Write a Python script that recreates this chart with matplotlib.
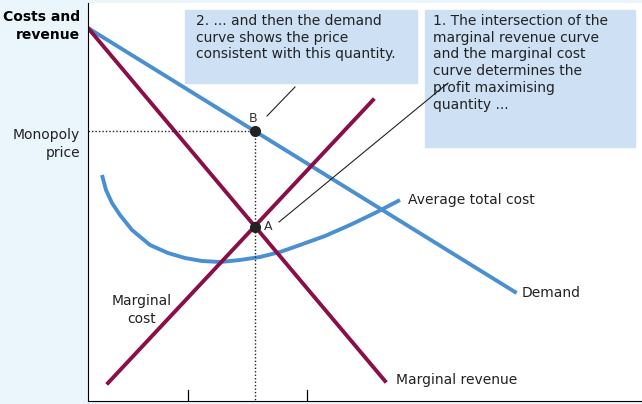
import matplotlib
matplotlib.use("Agg")
import matplotlib.pyplot as plt

# coordinates in picture units (x right, y down)
demand_x = [88, 515]
demand_y = [28, 292]
mr_x = [88, 385]
mr_y = [28, 381]
mc_x = [108, 373]
mc_y = [383, 100]
atc_x = [102, 106, 112, 120, 132, 150, 168, 185, 202, 220, 240, 260, 280, 300, 325, 350, 375, 400]
atc_y = [175, 190, 203, 215, 230, 245, 253, 258, 261, 262, 260, 257, 252, 245, 236, 225, 213, 200]
q_ticks = [188, 255, 307]
point_a = (255, 227)
point_b = (255, 131)

blue = "#4a8fd0"
maroon = "#8a0f48"
box = "#cde0f4"

fig = plt.figure(figsize=(6.42, 4.04), dpi=100, facecolor="#eaf5fc")
ax = fig.add_axes([88/642, 3/404, 554/642, 398/404])
ax.set_xlim(88, 642)
ax.set_ylim(401, 3)
ax.set_facecolor("white")
for s in ["top", "right"]:
    ax.spines[s].set_visible(False)
ax.set_xticks([])
ax.set_yticks([])

ax.plot(atc_x, atc_y, color=blue, lw=2.8, solid_capstyle="butt")
ax.plot(demand_x, demand_y, color=blue, lw=2.8)
ax.plot(mr_x, mr_y, color=maroon, lw=2.8)
ax.plot(mc_x, mc_y, color=maroon, lw=2.8)

ax.plot([88, point_b[0]], [point_b[1], point_b[1]], ls=(0, (1, 1.5)), color="#222", lw=1)
ax.plot([point_b[0], point_b[0]], [point_b[1], 401], ls=(0, (1, 1.5)), color="#222", lw=1)
for t in q_ticks:
    if t != 255:
        ax.plot([t, t], [401, 390], color="black", lw=0.9)

ax.plot(*point_a, "o", color="#222", ms=7, zorder=5)
ax.plot(*point_b, "o", color="#222", ms=7, zorder=5)
ax.text(264, 230, "A", fontsize=9, color="#333")
ax.text(249, 122, "B", fontsize=9, color="#333")

# annotation boxes
ax.add_patch(plt.Rectangle((185, 10), 232, 73, color=box, zorder=1))
ax.add_patch(plt.Rectangle((425, 10), 210, 137, color=box, zorder=1))
ax.text(196, 14, "2. ... and then the demand\ncurve shows the price\nconsistent with this quantity.",
        fontsize=10, va="top", color="#222", linespacing=1.25)
ax.text(433, 14, "1. The intersection of the\nmarginal revenue curve\nand the marginal cost\ncurve determines the\nprofit maximising\nquantity ...",
        fontsize=10, va="top", color="#222", linespacing=1.25)
ax.plot([267, 295], [116, 87], color="#222", lw=0.8)
ax.plot([279, 448], [222, 83], color="#222", lw=0.8)

ax.text(408, 200, "Average total cost", fontsize=10, va="center", color="#222")
ax.text(522, 293, "Demand", fontsize=10, va="center", color="#222")
ax.text(396, 380, "Marginal revenue", fontsize=10, va="center", color="#222")
ax.text(142, 310, "Marginal\ncost", fontsize=10, va="center", ha="center", color="#222", linespacing=1.4)

fig.text(80/642, 1 - 10/404, "Costs and\nrevenue", fontsize=10, fontweight="bold", ha="right", va="top", linespacing=1.4)
fig.text(80/642, 1 - 128/404, "Monopoly\nprice", fontsize=10, ha="right", va="top", color="#222", linespacing=1.4)

fig.savefig("out.png", dpi=100, facecolor=fig.get_facecolor())
